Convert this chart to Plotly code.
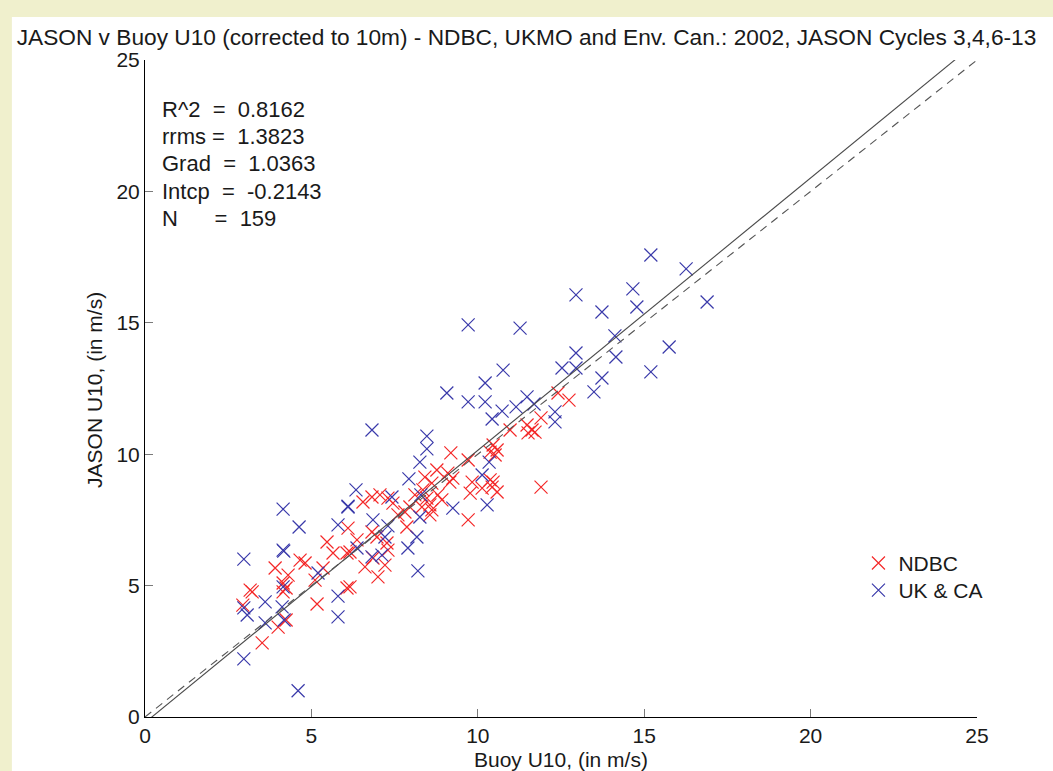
import plotly.graph_objects as go

# ---------------- data ----------------
ndbc_x = [12.41, 12.74, 11.90, 11.48, 11.63, 11.72, 11.51, 10.97, 10.46, 10.58, 10.37, 10.52,
          9.19, 9.71, 8.77, 9.10, 9.25, 9.16, 8.41, 8.62, 8.35, 8.11, 8.47, 8.80, 8.92, 8.56,
          8.62, 8.32, 7.96, 7.81, 7.60, 7.87, 8.56, 9.83, 9.77, 10.13, 10.37, 10.43, 10.58, 10.46,
          9.71, 6.55, 6.82, 7.06, 7.30, 7.45, 6.10, 6.37, 6.16, 6.07, 5.47, 5.65, 6.82, 7.27,
          7.30, 6.85, 6.61, 7.21, 7.00, 4.66, 4.81, 4.30, 4.15, 5.35, 5.11, 6.16, 6.07,
          3.16, 3.22, 2.94, 3.52, 3.91, 4.15, 4.24, 4.00, 4.24, 5.17, 6.97, 11.90]
ndbc_y = [12.33, 12.06, 11.38, 11.11, 10.92, 10.84, 10.81, 10.92, 10.35, 10.16, 10.08, 9.97,
          10.05, 9.78, 9.40, 9.28, 9.09, 8.94, 9.13, 8.90, 8.64, 8.45, 8.33, 8.45, 8.26, 8.07,
          7.88, 7.99, 7.99, 7.80, 7.69, 7.23, 7.69, 8.94, 8.52, 8.71, 9.02, 8.75, 8.56, 8.94,
          7.50, 8.18, 8.37, 8.45, 8.33, 8.14, 7.19, 6.74, 6.28, 6.24, 6.66, 6.24, 7.04, 6.62,
          6.35, 6.05, 5.71, 5.78, 5.33, 5.97, 5.86, 5.40, 5.10, 5.67, 5.21, 4.95, 4.91,
          4.83, 4.76, 4.26, 2.82, 5.67, 4.76, 4.91, 3.42, 3.69, 4.30, 6.85, 8.75]

ukca_x = [15.20, 16.26, 16.89, 12.95, 14.66, 14.78, 13.73, 9.71, 11.27, 15.75, 14.12, 14.15,
          12.95, 15.20, 12.95, 12.53, 13.73, 13.49, 10.76, 10.22, 9.07, 9.71, 10.22, 10.73,
          10.43, 11.15, 11.48, 11.69, 12.32, 12.32, 8.47, 8.47, 8.26, 7.93, 7.42, 10.34, 10.13,
          6.82, 8.29, 9.25, 10.28, 8.26, 8.17, 7.90, 8.20, 6.34, 6.10, 6.10, 4.15, 4.63, 5.80,
          6.85, 7.30, 7.21, 4.15, 4.17, 6.37, 6.82, 7.12, 5.20, 4.15, 5.80, 2.97, 2.97, 3.07,
          3.61, 4.12, 4.18, 3.61, 5.80, 2.97, 4.60]
ukca_y = [17.58, 17.05, 15.79, 16.06, 16.29, 15.60, 15.41, 14.92, 14.80, 14.08, 14.50, 13.70,
          13.85, 13.13, 13.28, 13.28, 12.90, 12.37, 13.20, 12.71, 12.33, 11.99, 11.99, 11.64,
          11.34, 11.80, 12.18, 11.91, 11.61, 11.23, 10.69, 10.20, 9.70, 9.06, 8.37, 9.70, 9.21,
          10.92, 8.45, 7.95, 8.07, 7.61, 6.85, 6.43, 5.56, 8.64, 7.99, 8.02, 7.91, 7.23, 7.31,
          7.50, 7.27, 6.85, 6.35, 6.31, 6.43, 6.09, 6.16, 5.48, 4.95, 4.60, 6.01, 4.15, 3.88,
          4.38, 4.19, 3.69, 3.58, 3.81, 2.21, 1.00]

r_squared = 0.8162
rrms = 1.3823
grad = 1.0363
intcp = -0.2143
n_obs = 159

tick_vals = [0, 5, 10, 15, 20, 25]
line_x = [0, 25]

title_text = "JASON v Buoy U10 (corrected to 10m) - NDBC, UKMO and Env. Can.: 2002, JASON Cycles 3,4,6-13"
stats_lines = [
    "R^2  =  %.4f" % r_squared,
    "rrms =  %.4f" % rrms,
    "Grad  =  %.4f" % grad,
    "Intcp  =  %.4f" % intcp,
    "N      =  %d" % n_obs,
]

# ---------------- figure ----------------
FONT = "Liberation Sans, Arial, Helvetica, sans-serif"
TXT = "#1a1a1a"
RED = "#f42828"
BLUE = "#3a3aaa"

fig = go.Figure()
fig.add_trace(go.Scatter(
    x=ndbc_x, y=ndbc_y, mode="markers", name="NDBC", legend="legend",
    marker=dict(symbol="x-thin", size=13, color=RED, line=dict(color=RED, width=1.2)),
))
fig.add_trace(go.Scatter(
    x=ukca_x, y=ukca_y, mode="markers", name="UK & CA", legend="legend2",
    marker=dict(symbol="x-thin", size=13, color=BLUE, line=dict(color=BLUE, width=1.2)),
))
fig.add_trace(go.Scatter(
    x=line_x, y=[grad * v + intcp for v in line_x], mode="lines", showlegend=False,
    line=dict(color="#4a4a4a", width=1.1), hoverinfo="skip",
))
fig.add_trace(go.Scatter(
    x=line_x, y=line_x, mode="lines", showlegend=False,
    line=dict(color="#555555", width=1.1, dash="8px,6px"), hoverinfo="skip",
))

axis_common = dict(
    range=[0, 25], tickvals=tick_vals, ticks="inside", ticklen=8, tickcolor="#7a7a7a",
    tickwidth=1, showline=True, linecolor="black", linewidth=1, showgrid=False,
    zeroline=False, mirror=False, tickfont=dict(family=FONT, size=21, color=TXT),
)

legend_common = dict(xanchor="left", yanchor="top", bgcolor="rgba(0,0,0,0)",
                     font=dict(family=FONT, size=21, color=TXT), itemwidth=30)

fig.update_layout(
    width=1053, height=771,
    margin=dict(l=145, r=76, t=60, b=54),
    paper_bgcolor="#f0f0cd",
    plot_bgcolor="white",
    font=dict(family=FONT, color=TXT),
    title=dict(text=title_text, x=0.5, xref="container", xanchor="center",
               y=1 - 37 / 771, yref="container", yanchor="middle",
               font=dict(family=FONT, size=22.7, color=TXT)),
    xaxis=axis_common,
    yaxis=axis_common,
    legend=dict(x=0.8575, y=0.265, **legend_common),
    legend2=dict(x=0.8575, y=0.2237, **legend_common),
    showlegend=True,
)

# white figure area over the pale border
fig.add_shape(type="rect", xref="paper", yref="paper", x0=-0.16, x1=1.1, y0=-0.1, y1=1.0654,
              fillcolor="white", line=dict(width=0), layer="below")

# axis titles
fig.add_annotation(text="Buoy U10, (in m/s)", xref="paper", yref="paper", x=0.5, y=-0.0654,
                   xanchor="center", yanchor="middle", showarrow=False,
                   font=dict(family=FONT, size=21, color=TXT))
fig.add_annotation(text="JASON U10, (in m/s)", xref="paper", yref="paper", x=-0.060, y=0.498,
                   xanchor="center", yanchor="middle", textangle=-90, showarrow=False,
                   font=dict(family=FONT, size=21, color=TXT))

# statistics text
stat_y_px = [109, 136, 163, 191, 218]
for line, py in zip(stats_lines, stat_y_px):
    fig.add_annotation(text=line, xref="paper", yref="paper", x=15 / 832, y=(717 - py) / 657,
                       xanchor="left", yanchor="middle", showarrow=False,
                       font=dict(family=FONT, size=22, color=TXT))

fig.write_html("out.html", config={"displayModeBar": False},
               post_script="document.body.style.margin='0';")
